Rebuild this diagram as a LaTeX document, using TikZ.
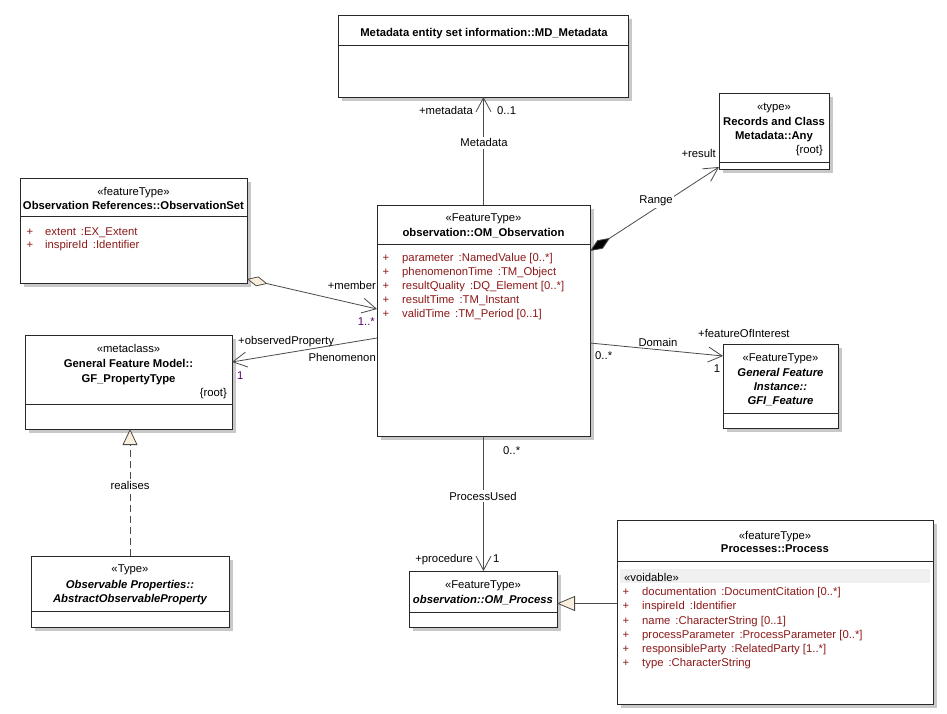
\documentclass[tikz,border=0pt]{standalone}
\usepackage{fontspec}
\setmainfont{Liberation Sans}
\usetikzlibrary{arrows.meta,calc}
\definecolor{attrred}{RGB}{140,25,25}
\definecolor{multpurple}{RGB}{90,0,110}
\definecolor{cream}{RGB}{250,238,220}
\definecolor{boxc}{RGB}{40,40,40}
\definecolor{connc}{RGB}{75,75,75}
\definecolor{shadowc}{RGB}{200,200,200}
\definecolor{voidbg}{RGB}{240,240,240}
\tikzset{
  clsbox/.style={draw=boxc, fill=white, line width=0.8pt, inner sep=0pt, outer sep=0pt, rectangle},
  sepline/.style={draw=boxc, line width=0.8pt},
  txt/.style={inner sep=0pt, anchor=base, font=\fontsize{11.3}{13.5}\selectfont},
  plus/.style={txt, text=attrred},
  attr/.style={txt, anchor=base west, text=attrred},
  lbl/.style={txt},
  lblw/.style={txt, fill=white, inner sep=1.5pt},
  conn/.style={draw=connc, line width=0.8pt},
  nav/.style={conn, -{Straight Barb[length=14pt,width=15pt]}},
}
\newcommand\umlcls[6]{%
  \fill[shadowc] (#2+4,#3+4) rectangle (#4+4,#5+4);
  \node[clsbox, anchor=north west, minimum width={#4-#2}, minimum height={#5-#3}] (#1) at (#2,#3) {};
  \draw[sepline] (#2,#6) -- (#4,#6);}
\newcommand\attrow[4]{%
  \node[plus] (#1p) at (#2,#3) {+};
  \node[attr] (#1) at (#2+16,#3) {#4};}
\begin{document}
\begin{tikzpicture}[x=1pt,y=-1pt]
\useasboundingbox[fill=white] (0,0) rectangle (947,714);

% ---------- classes ----------
\umlcls{md}{338}{15}{628}{97}{45}
\node[txt] (mdname) at (484,37) {\bfseries Metadata entity set information::MD\_Metadata};

\umlcls{obs}{377}{205}{590}{436}{244}
\node[txt] (obsst) at (483.5,222) {«FeatureType»};
\node[txt] (obsname) at (483.5,236) {\bfseries observation::OM\_Observation};
\attrow{oa1}{386}{261}{parameter \,:NamedValue [0..*]}
\attrow{oa2}{386}{275}{phenomenonTime \,:TM\_Object}
\attrow{oa3}{386}{289}{resultQuality \,:DQ\_Element [0..*]}
\attrow{oa4}{386}{303}{resultTime \,:TM\_Instant}
\attrow{oa5}{386}{317}{validTime \,:TM\_Period [0..1]}

\umlcls{oset}{20}{178}{247}{283}{216}
\node[txt] (osetst) at (133.5,196) {«featureType»};
\node[txt] (osetname) at (133.5,209) {\bfseries Observation References::ObservationSet};
\node[plus] (sa1p) at (30,235) {+};
\node[attr] (sa1) at (45,235) {extent \,:EX\_Extent};
\node[plus] (sa2p) at (30,248) {+};
\node[attr] (sa2) at (45,248) {inspireId \,:Identifier};

\umlcls{gf}{25}{335}{232}{429}{404}
\node[txt] (gfst) at (128.5,352) {«metaclass»};
\node[txt] (gfn1) at (128.5,367) {\bfseries General Feature Model::};
\node[txt] (gfn2) at (128.5,382) {\bfseries GF\_PropertyType};
\node[txt, anchor=base east] (gfroot) at (227,396) {\{root\}};

\umlcls{any}{719}{93}{829}{169}{162}
\node[txt] (anyst) at (774,111) {«type»};
\node[txt] (anyn1) at (774,126) {\bfseries Records and Class};
\node[txt] (anyn2) at (774,140) {\bfseries Metadata::Any};
\node[txt, anchor=base east] (anyroot) at (823,154) {\{root\}};

\umlcls{gfi}{723}{344}{838}{428}{413}
\node[txt] (gfist) at (780.5,361) {«FeatureType»};
\node[txt] (gfin1) at (780.5,376) {\bfseries\itshape General Feature};
\node[txt] (gfin2) at (780.5,390) {\bfseries\itshape Instance::};
\node[txt] (gfin3) at (780.5,404) {\bfseries\itshape GFI\_Feature};

\umlcls{abs}{31}{556}{229}{627}{611}
\node[txt] (absst) at (130,572) {«Type»};
\node[txt] (absn1) at (130,588) {\bfseries\itshape Observable Properties::};
\node[txt] (absn2) at (130,602) {\bfseries\itshape AbstractObservableProperty};

\umlcls{omp}{409}{571}{557}{627}{612}
\node[txt] (ompst) at (483,588) {«FeatureType»};
\node[txt] (ompname) at (483,603) {\bfseries\itshape observation::OM\_Process};

\umlcls{proc}{617}{520}{933}{704}{561}
\node[txt] (procst) at (775,539) {«featureType»};
\node[txt] (procname) at (775,552) {\bfseries Processes::Process};
\fill[voidbg] (620,569) rectangle (930,583);
\node[txt, anchor=base west] (void) at (624,581) {«voidable»};
\attrow{pa1}{626}{595}{documentation \,:DocumentCitation [0..*]}
\attrow{pa2}{626}{609}{inspireId \,:Identifier}
\attrow{pa3}{626}{624}{name \,:CharacterString [0..1]}
\attrow{pa4}{626}{638}{processParameter \,:ProcessParameter [0..*]}
\attrow{pa5}{626}{652}{responsibleParty \,:RelatedParty [1..*]}
\attrow{pa6}{626}{666}{type \,:CharacterString}

% ---------- connectors ----------
\draw[nav] (obs.north) -- (obs.north |- md.south);
\draw[conn, {Diamond[length=24pt,width=10pt,fill=black]}-{Straight Barb[length=14pt,width=15pt]}]
  (obs.east |- 0,251) -- (any.west |- 0,167);
\draw[conn, {Diamond[length=21pt,width=10pt,fill=cream]}-{Straight Barb[length=14pt,width=15pt]}]
  (oset.east |- 0,279) -- (obs.west |- 0,309);
\draw[nav] (obs.west |- 0,338) -- (gf.east |- 0,362);
\draw[nav] (obs.east |- 0,343) -- (gfi.west |- 0,356);
\draw[nav] (obs.south) -- (obs.south |- omp.north);
\draw[conn, -{Triangle[length=18pt,width=15pt,fill=cream]}] (proc.west |- 0,603.5) -- (omp.east |- 0,603.5);
\draw[conn, dashed, dash pattern=on 7pt off 4pt, -{Triangle[length=16pt,width=15pt,fill=cream]}] (abs.north) -- (abs.north |- gf.south);

% ---------- connector labels ----------
\node[lbl, anchor=base east] (l1) at (473,115) {+metadata};
\node[lbl, anchor=base west] (l2) at (497,115) {0..1};
\node[lblw] (l3) at (484,147) {Metadata};
\node[lbl, anchor=base east] (l4) at (716,158) {+result};
\node[lblw] (l5) at (656,204) {Range};
\node[lbl, anchor=base east] (l6) at (376,289) {+member};
\node[lbl, anchor=base east, text=multpurple] (l7) at (375,325) {1..*};
\node[lbl, anchor=base west] (l8) at (238,344) {+observedProperty};
\node[lbl, anchor=base east] (l9) at (376,361) {Phenomenon};
\node[lbl, anchor=base west, text=multpurple] (l10) at (237,379) {1};
\node[lbl, anchor=base west] (l11) at (698,337) {+featureOfInterest};
\node[lbl] (l12) at (658,346) {Domain};
\node[lbl, anchor=base west] (l13) at (595,359) {0..*};
\node[lbl] (l14) at (717,372) {1};
\node[lbl, anchor=base west] (l15) at (503,454) {0..*};
\node[lblw] (l16) at (483,500) {ProcessUsed};
\node[lbl, anchor=base east] (l17) at (473,562) {+procedure};
\node[lbl, anchor=base west] (l18) at (493,562) {1};
\node[lblw] (l19) at (130,489) {realises};
\end{tikzpicture}
\end{document}
